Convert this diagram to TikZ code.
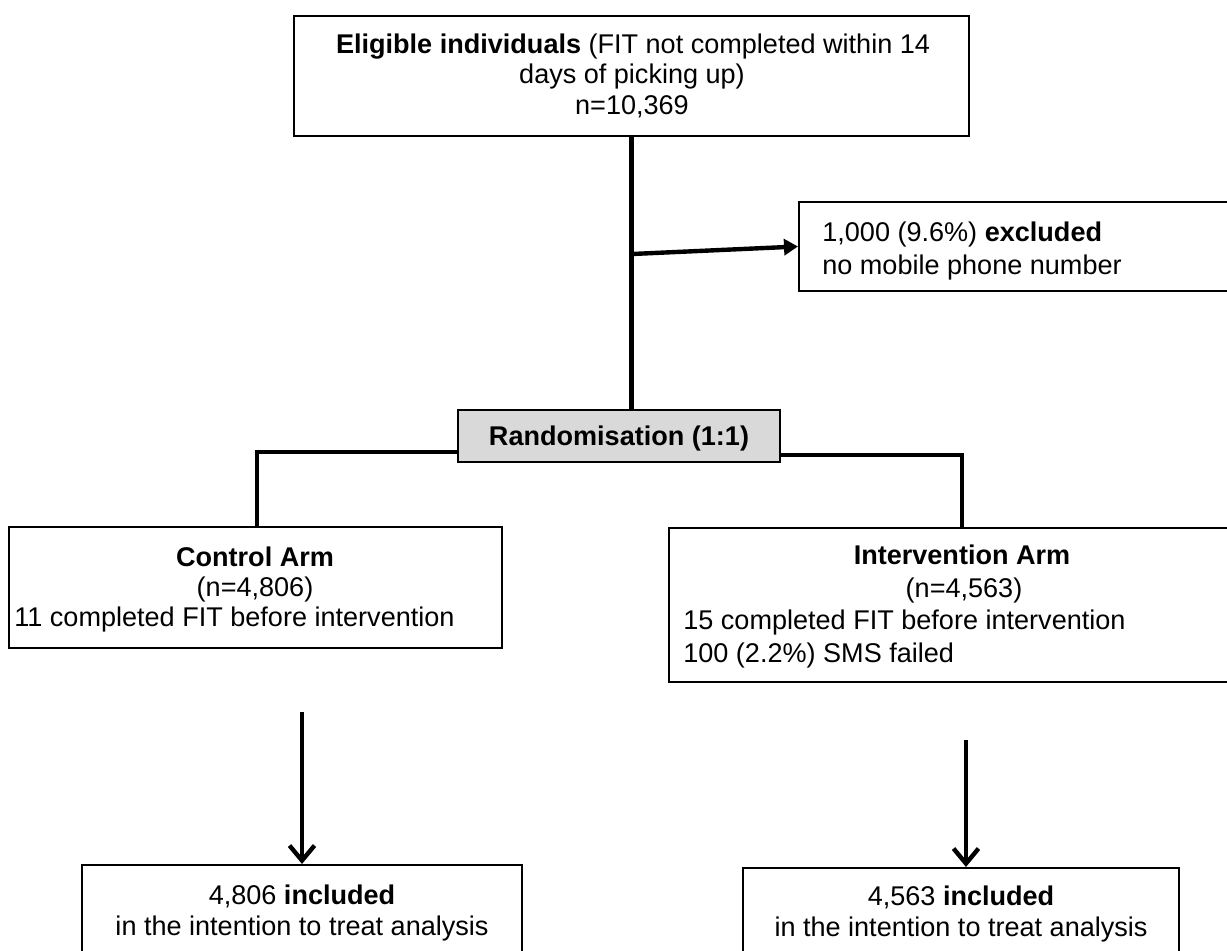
\documentclass[tikz,border=0pt]{standalone}
\usepackage{fontspec}
\setmainfont{Liberation Sans}
\usetikzlibrary{arrows.meta}
\begin{document}
\begin{tikzpicture}[x=0.02cm,y=-0.02cm,
  box/.style={draw=black,line width=1.2pt,fill=white,inner sep=0pt},
  txt/.style={inner sep=0pt,font=\fontsize{15.4}{18}\selectfont},
  conn/.style={line width=2.5pt,draw=black},
  tri/.style={-{Triangle[length=0.28cm,width=0.32cm]}},
  barb/.style={-{Straight Barb[length=0.3cm,width=0.5cm,line width=2.5pt]}}
]
\useasboundingbox (0,0) rectangle (1227,950);
\clip (0,0) rectangle (1227,950);
\fill[white] (0,0) rectangle (1227,950);

% boxes
\node[box,minimum width=13.5cm,minimum height=2.4cm] (top) at (631.5,76) {};
\node[box,minimum width=10.02cm,minimum height=1.78cm] (exc) at (1049.5,246.5) {};
\node[box,fill=black!15,minimum width=6.44cm,minimum height=1.04cm] (rand) at (619,436) {};
\node[box,minimum width=9.86cm,minimum height=2.42cm] (ctrl) at (255.5,587.5) {};
\node[box,minimum width=11.72cm,minimum height=3.08cm] (intv) at (962,605) {};
\node[box,minimum width=8.8cm,minimum height=2.7cm] (incl) at (302,932.5) {};
\node[box,minimum width=8.72cm,minimum height=2.64cm] (incr) at (961,934) {};

% texts
\node[txt,anchor=base] (t1) at (633,53) {\textbf{Eligible individuals} (FIT not completed within 14};
\node[txt,anchor=base] (t2) at (632,83) {days of picking up)};
\node[txt,anchor=base] (t3) at (632,114) {n=10,369};

\node[txt,anchor=base west] (e1) at (822,241) {1,000 (9.6\%) \textbf{excluded}};
\node[txt,anchor=base west] (e2) at (822,274) {no mobile phone number};

\node[txt,anchor=base] (r1) at (619,445) {\textbf{Randomisation (1:1)}};

\node[txt,anchor=base] (c1) at (255,566) {\textbf{Control Arm}};
\node[txt,anchor=base] (c2) at (255,596) {(n=4,806)};
\node[txt,anchor=base west] (c3) at (14,626) {11 completed FIT before intervention};

\node[txt,anchor=base] (i1) at (962,564) {\textbf{Intervention Arm}};
\node[txt,anchor=base] (i2) at (964,597) {(n=4,563)};
\node[txt,anchor=base west] (i3) at (683,629) {15 completed FIT before intervention};
\node[txt,anchor=base west] (i4) at (683,662) {100 (2.2\%) SMS failed};

\node[txt,anchor=base] (l1) at (302,904) {4,806 \textbf{included}};
\node[txt,anchor=base] (l2) at (302,935) {in the intention to treat analysis};

\node[txt,anchor=base] (q1) at (961,905) {4,563 \textbf{included}};
\node[txt,anchor=base] (q2) at (961,936) {in the intention to treat analysis};

% connectors
\coordinate (br) at (632,254);
\coordinate (la) at (302,712);
\coordinate (ra) at (966,740);
\draw[conn] (top.south) -- (top.south |- rand.north);
\draw[conn,tri] (br) -- (exc.west);
\draw[conn] (rand.west |- 0,452) -| (ctrl.north -| 257,0);
\draw[conn] (rand.east |- 0,455) -| (intv.north);
\draw[conn,barb] (la) -- (incl.north -| la);
\draw[conn,barb] (ra) -- (incr.north -| ra);
\end{tikzpicture}
\end{document}
